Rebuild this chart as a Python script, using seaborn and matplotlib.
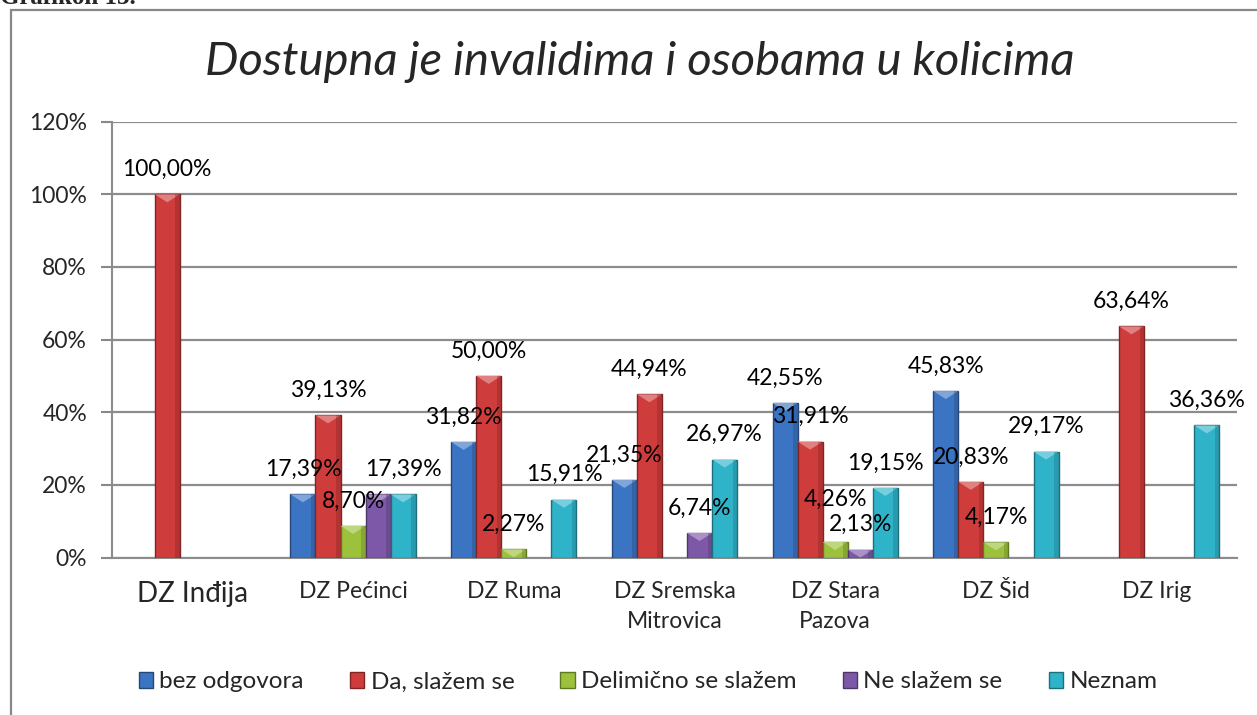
import numpy as np
import pandas as pd
import matplotlib
matplotlib.use("Agg")
import matplotlib.pyplot as plt
import matplotlib.colors as mcolors
from matplotlib.patches import Polygon, Patch, Rectangle
import seaborn as sns

categories = ["DZ Inđija", "DZ Pećinci", "DZ Ruma", "DZ Sremska\nMitrovica",
              "DZ Stara\nPazova", "DZ Šid", "DZ Irig"]
series = ["bez odgovora", "Da, slažem se", "Delimično se slažem", "Ne slažem se", "Neznam"]
bez_odgovora = [0, 17.39, 31.82, 21.35, 42.55, 45.83, 0]
da_slazem = [100.00, 39.13, 50.00, 44.94, 31.91, 20.83, 63.64]
delimicno = [0, 8.70, 2.27, 0, 4.26, 4.17, 0]
ne_slazem = [0, 17.39, 0, 6.74, 2.13, 0, 0]
neznam = [0, 17.39, 15.91, 26.97, 19.15, 29.17, 36.36]
yticks = [0, 20, 40, 60, 80, 100, 120]
title = "Dostupna je invalidima i osobama u kolicima"
colors = ["#3b74c2", "#cf3c3c", "#9bc23a", "#7d58a8", "#2fb3c9"]

# label placement tweaks as in the original (label hidden by overlap / raised)
hidden_labels = {("Ne slažem se", "DZ Pećinci")}
raised_labels = {("Delimično se slažem", "DZ Stara\nPazova"): 13}

values = [bez_odgovora, da_slazem, delimicno, ne_slazem, neznam]
rows = []
for s, vals in zip(series, values):
    for c, v in zip(categories, vals):
        rows.append({"cat": c, "series": s, "val": v})
df = pd.DataFrame(rows)

sns.set_theme(style="white")
plt.rcParams["font.family"] = ["Lato", "DejaVu Sans"]

fig = plt.figure(figsize=(12.57, 7.15), dpi=100)
ax = fig.add_axes([112 / 1257, 1 - 557.5 / 715, (1237 - 112) / 1257, (557.5 - 121.7) / 715])

sns.barplot(data=df, x="cat", y="val", hue="series", order=categories,
            hue_order=series, palette=colors, width=0.78, saturation=1,
            edgecolor="none", linewidth=0, ax=ax, legend=False, zorder=3)

ax.set_ylim(0, 120)
ax.set_xlim(-0.5, len(categories) - 0.5)
ax.set_yticks(yticks)
ax.set_yticklabels([f"{t}%" for t in yticks], fontsize=16.5)
ax.set_xticks(range(len(categories)))
ax.set_xticklabels(categories, fontsize=16.5, linespacing=1.55)
ax.get_xticklabels()[0].set_fontsize(20)
ax.set_xticks(np.arange(-0.5, len(categories)), minor=True)
ax.tick_params(axis="x", which="major", length=0, pad=17)
ax.tick_params(axis="x", which="minor", length=8, color="#888888", width=1.5, direction="out")
ax.tick_params(axis="y", length=8, color="#888888", width=1.5, direction="out", left=True, pad=10)
ax.set_xlabel("")
ax.set_ylabel("")
ax.grid(axis="y", color="#8c8c8c", linewidth=1.6, zorder=0)
ax.set_axisbelow(True)
for side in ["top", "right"]:
    ax.spines[side].set_visible(False)
for side in ["left", "bottom"]:
    ax.spines[side].set_color("#8c8c8c")
    ax.spines[side].set_linewidth(1.5)

# bevel effect + labels (patches come in hue order, then category order)
ax_h_px = (557.5 - 121.7)
dy_unit = 120 / ax_h_px
bar_keys = [(s, c) for s in series for c in categories]
for p, key in zip(list(ax.patches), bar_keys):
    h = p.get_height()
    if h is None or np.isnan(h) or h <= 0:
        p.set_visible(False)
        continue
    x0 = p.get_x()
    w = p.get_width()
    base = mcolors.to_rgb(p.get_facecolor())
    dark = tuple(c * 0.62 for c in base)
    light = tuple(min(1, c + (1 - c) * 0.35) for c in base)
    p.set_edgecolor(dark)
    p.set_linewidth(1.0)
    depth = min(8 * dy_unit, h)
    tri = Polygon([[x0, h], [x0 + w, h], [x0 + w / 2, h - depth]], closed=True,
                  facecolor=light, edgecolor="none", zorder=4)
    ax.add_patch(tri)
    ax.add_patch(Rectangle((x0 + w * 0.82, 0), w * 0.18, h,
                           facecolor=dark, alpha=0.35, edgecolor="none", zorder=4))
    if key in hidden_labels:
        continue
    extra = raised_labels.get(key, 0)
    ax.annotate(f"{h:.2f}%".replace(".", ","), (x0 + w / 2, h),
                xytext=(0, 13.3 + extra), textcoords="offset points",
                ha="center", va="baseline", fontsize=16.5, color="black", zorder=6)

fig.text(640 / 1257, 1 - 62 / 715, title, fontsize=34, style="italic",
         ha="center", va="center")

handles = [Patch(facecolor=c, edgecolor=tuple(v * 0.62 for v in mcolors.to_rgb(c)), label=s)
           for s, c in zip(series, colors)]
fig.legend(handles=handles, loc="center", bbox_to_anchor=(648 / 1257, 1 - 682 / 715),
           ncol=5, frameon=False, fontsize=17.5, handlelength=0.6, handleheight=0.6,
           handletextpad=0.25, columnspacing=1.9)

# chart border
fig.add_artist(Rectangle((11 / 1257, -0.1), 2, 1.1 - 10 / 715, transform=fig.transFigure,
                         fill=False, edgecolor="#888888", linewidth=1.6))
fig.text(0.0, 1.0 + 2 / 715, "Grafikon 13.", fontsize=18, fontweight="bold", va="center",
         ha="left", family=["Liberation Serif", "DejaVu Serif"])

fig.savefig("out.png", dpi=100)
